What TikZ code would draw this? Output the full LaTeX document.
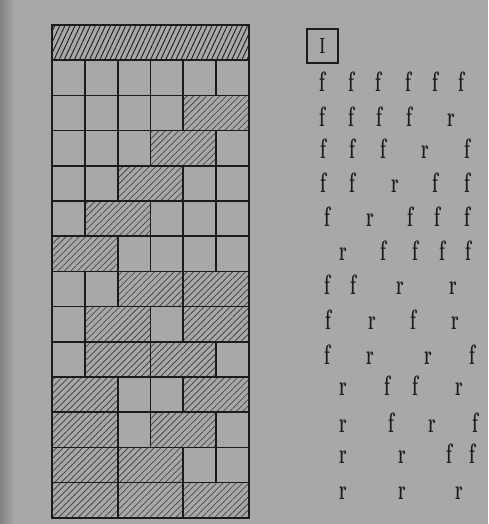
\documentclass[tikz,border=0pt]{standalone}
\usetikzlibrary{patterns.meta}
\definecolor{paper}{RGB}{168,168,168}
\definecolor{ink}{RGB}{28,28,28}
\tikzset{
  gridline/.style={draw=ink, line width=1.7pt},
  hatched/.style={pattern={Lines[angle=45,distance=4.6pt,line width=0.8pt]}, pattern color=ink!80},
  tophatch/.style={pattern={Lines[angle=65,distance=4.6pt,line width=0.9pt]}, pattern color=ink},
  sym/.style={anchor=base, inner sep=0pt, text=ink, font=\fontsize{28}{28}\selectfont\bfseries},
  ibox/.style={draw=ink, line width=1.7pt, minimum width=31pt, minimum height=34pt, inner sep=0pt, text=ink, font=\fontsize{22}{22}\selectfont\bfseries},
}
\newcommand\plaincell[2]{\draw[gridline] ({52+(#2-1)*32.83},{25+#1*35.2}) rectangle ++(32.83,35.2);}
\newcommand\hatchpair[2]{\draw[gridline,hatched] ({52+(#2-1)*32.83},{25+#1*35.2}) rectangle ++(65.67,35.2);}
\newcommand\narrowglyph[1]{\scalebox{0.6}[1]{#1}}
\begin{document}
\begin{tikzpicture}[x=1pt,y=-1pt]
\fill[paper] (0,0) rectangle (488,524);
\shade[left color=black!50, right color=paper] (0,0) rectangle (14,524);
\useasboundingbox (0,0) rectangle (488,524);
% top hatched band
\draw[gridline,tophatch] (52,25) rectangle (249,60.2);
% row 1
\foreach \c in {1,...,6} {\plaincell{1}{\c}}
% row 2
\foreach \c in {1,...,4} {\plaincell{2}{\c}} \hatchpair{2}{5}
% row 3
\foreach \c in {1,2,3,6} {\plaincell{3}{\c}} \hatchpair{3}{4}
% row 4
\foreach \c in {1,2,5,6} {\plaincell{4}{\c}} \hatchpair{4}{3}
% row 5
\foreach \c in {1,4,5,6} {\plaincell{5}{\c}} \hatchpair{5}{2}
% row 6
\foreach \c in {3,4,5,6} {\plaincell{6}{\c}} \hatchpair{6}{1}
% row 7
\foreach \c in {1,2} {\plaincell{7}{\c}} \hatchpair{7}{3} \hatchpair{7}{5}
% row 8
\foreach \c in {1,4} {\plaincell{8}{\c}} \hatchpair{8}{2} \hatchpair{8}{5}
% row 9
\foreach \c in {1,6} {\plaincell{9}{\c}} \hatchpair{9}{2} \hatchpair{9}{4}
% row 10
\foreach \c in {3,4} {\plaincell{10}{\c}} \hatchpair{10}{1} \hatchpair{10}{5}
% row 11
\foreach \c in {3,6} {\plaincell{11}{\c}} \hatchpair{11}{1} \hatchpair{11}{4}
% row 12
\foreach \c in {5,6} {\plaincell{12}{\c}} \hatchpair{12}{1} \hatchpair{12}{3}
% row 13
\hatchpair{13}{1} \hatchpair{13}{3} \hatchpair{13}{5}
% outer frame
\draw[gridline, line width=2pt] (52,25) rectangle (249,517.8);
% boxed I
\node[ibox] (ib) at (322.5,46) {\narrowglyph{I}};
% symbol rows
\foreach \r/\yb/\lst in {
  1/92/{322/f,351/f,378/f,408/f,435/f,461/f},
  2/126/{322/f,351/f,379/f,409/f,451/r},
  3/158/{323/f,352/f,383/f,425/r,467/f},
  4/192/{323/f,352/f,395/r,435/f,467/f},
  5/226/{327/f,370/r,410/f,437/f,467/f},
  6/260/{343/r,383/f,415/f,442/f,468/f},
  7/294/{327/f,353/f,400/r,453/r},
  8/329/{328/f,372/r,413/f,455/r},
  9/364/{327/f,370/r,428/r,472/f},
  10/395/{343/r,387/f,415/f,459/r},
  11/432/{343/r,391/f,432/r,475/f},
  12/463/{343/r,402/r,449/f,472/f},
  13/499/{343/r,402/r,459/r}} {
  \foreach \x/\t [count=\i] in \lst {
    \node[sym] (s\r-\i) at (\x,\yb) {\narrowglyph{\t}};
  }
}
\end{tikzpicture}
\end{document}
